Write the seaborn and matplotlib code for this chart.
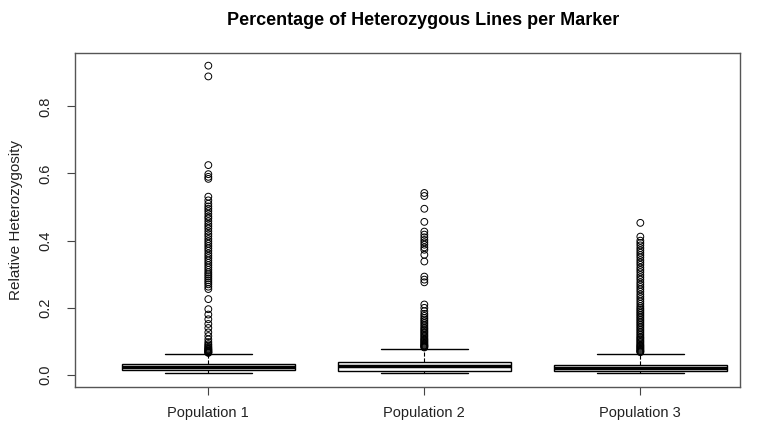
import numpy as np
import pandas as pd
import seaborn as sns
import matplotlib.pyplot as plt

# box summary (R style boxplot)
groups = ["Population 1", "Population 2", "Population 3"]
whisker_low = [0.006, 0.006, 0.006]
q1 = [0.014, 0.013, 0.011]
median = [0.025, 0.027, 0.021]
q3 = [0.034, 0.040, 0.030]
whisker_high = [0.062, 0.077, 0.062]

# outliers per population
out_pop1 = [0.921, 0.889, 0.625, 0.598, 0.590, 0.584, 0.531, 0.520, 0.510, 0.502,
            0.495, 0.488, 0.480, 0.472, 0.466, 0.458, 0.450, 0.443, 0.436, 0.428,
            0.420, 0.413, 0.405, 0.398, 0.391, 0.384, 0.377, 0.370, 0.362, 0.355,
            0.348, 0.341, 0.334, 0.327, 0.320, 0.313, 0.306, 0.300, 0.294, 0.288,
            0.282, 0.276, 0.270, 0.263, 0.256, 0.226, 0.196, 0.180, 0.166, 0.152,
            0.140, 0.127, 0.116, 0.106, 0.098, 0.092, 0.088, 0.084, 0.081, 0.078,
            0.076, 0.074, 0.072, 0.070, 0.068, 0.067, 0.066]
out_pop2 = [0.542, 0.533, 0.495, 0.456, 0.427, 0.418, 0.410, 0.402, 0.395, 0.388,
            0.380, 0.373, 0.358, 0.338, 0.293, 0.284, 0.276, 0.210, 0.200, 0.190,
            0.182, 0.176, 0.170, 0.165, 0.160, 0.155, 0.150, 0.145, 0.140, 0.136,
            0.132, 0.128, 0.124, 0.120, 0.116, 0.112, 0.108, 0.105, 0.102, 0.099,
            0.096, 0.093, 0.090, 0.088, 0.086, 0.084, 0.082]
out_pop3 = [0.453, 0.412, 0.400, 0.393, 0.386, 0.378, 0.371, 0.364, 0.357, 0.350,
            0.342, 0.335, 0.328, 0.320, 0.313, 0.306, 0.298, 0.291, 0.284, 0.276,
            0.269, 0.262, 0.255, 0.248, 0.240, 0.233, 0.226, 0.219, 0.212, 0.205,
            0.199, 0.194, 0.189, 0.184, 0.179, 0.174, 0.169, 0.164, 0.159, 0.154,
            0.149, 0.144, 0.139, 0.134, 0.129, 0.124, 0.119, 0.114, 0.110, 0.106,
            0.102, 0.098, 0.094, 0.090, 0.087, 0.084, 0.081, 0.078, 0.075, 0.072,
            0.070, 0.068]
outliers = [out_pop1, out_pop2, out_pop3]

sns.set_style("white")
plt.rcParams['font.family'] = ['Liberation Sans', 'DejaVu Sans']

fig = plt.figure(figsize=(7.68, 4.24), dpi=100)
ax = fig.add_axes([0.098, 0.087, 0.866, 0.789])

stats = []
for i, g in enumerate(groups):
    stats.append(dict(label=g, whislo=whisker_low[i], q1=q1[i], med=median[i],
                      q3=q3[i], whishi=whisker_high[i], fliers=[]))
ax.bxp(stats, positions=[1, 2, 3], widths=0.8, showfliers=False, patch_artist=True,
       boxprops=dict(facecolor='white', edgecolor='black', linewidth=1),
       medianprops=dict(color='black', linewidth=2.5),
       whiskerprops=dict(color='black', linewidth=0.8, linestyle='--'),
       capprops=dict(color='black', linewidth=1), capwidths=0.4)

# outliers drawn through seaborn
rows = []
for i, vals in enumerate(outliers):
    for v in vals:
        rows.append((i + 1, v))
df = pd.DataFrame(rows, columns=['pos', 'value'])
sns.scatterplot(data=df, x='pos', y='value', ax=ax, marker='o', s=24,
                facecolor='none', edgecolor='black', linewidth=0.7, zorder=3)

ax.set_xlim(0.384, 3.463)
ax.set_ylim(-0.036, 0.96)
ax.set_xticks([1, 2, 3])
ax.set_xticklabels(groups, fontsize=10.5, color='#222222')
ax.set_yticks([0.0, 0.2, 0.4, 0.6, 0.8])
ax.set_yticklabels(['0.0', '0.2', '0.4', '0.6', '0.8'], rotation=90, va='center',
                   fontsize=10.5, color='#222222')
ax.tick_params(axis='both', direction='out', length=5.5, width=0.8, color='#444444',
               left=True, bottom=True)
ax.tick_params(axis='x', pad=8)
ax.tick_params(axis='y', pad=11)
ax.set_xlabel('')
ax.set_ylabel('Relative Heterozygosity', fontsize=11, color='#222222', labelpad=11)
for s in ax.spines.values():
    s.set_color('#555555')
    s.set_linewidth(1)

fig.text(0.551, 0.952, 'Percentage of Heterozygous Lines per Marker', fontsize=13,
         fontweight='bold', ha='center', va='center', color='black')

plt.savefig('out.png', dpi=100)
